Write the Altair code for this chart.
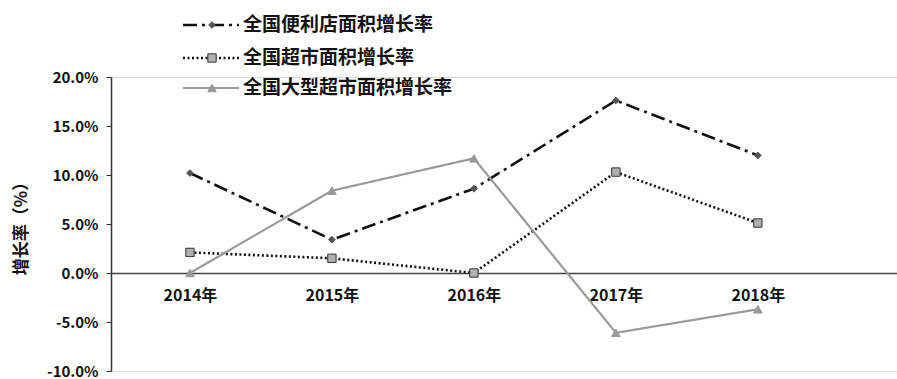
import altair as alt
import pandas as pd

years = [2014, 2015, 2016, 2017, 2018]
series_names = ["全国便利店面积增长率", "全国超市面积增长率", "全国大型超市面积增长率"]
conv = [10.2, 3.4, 8.6, 17.6, 12.0]
supm = [2.1, 1.5, 0.0, 10.3, 5.1]
hyper = [0.0, 8.4, 11.7, -6.1, -3.7]
y_ticks = [-10, -5, 0, 5, 10, 15, 20]

rows = []
for name, vals in zip(series_names, [conv, supm, hyper]):
    for yr, v in zip(years, vals):
        rows.append({"year": yr, "series": name, "value": v})
df = pd.DataFrame(rows)

W, H = 786, 294
FONT = "Noto Sans CJK SC"

colors = ["#111111", "#111111", "#9a9a9a"]
dashes = [[14, 5, 3, 5], [2, 2.5], [1, 0]]
shapes = ["diamond", "square", "triangle-up"]
fills = ["#555555", "#b0b0b0", "#9a9a9a"]
sizes = [45, 70, 75]
widths = [2.6, 2.6, 2.2]

xscale = alt.Scale(domain=[2013.444, 2018.98], nice=False, zero=False)
yscale = alt.Scale(domain=[-10, 20], nice=False)

layers = []
for i, name in enumerate(series_names):
    d = df[df.series == name]
    base = alt.Chart(d)
    line = base.mark_line(color=colors[i], strokeDash=dashes[i], strokeWidth=widths[i]).encode(
        x=alt.X("year:Q", scale=xscale,
                axis=alt.Axis(values=years, title=None, tickSize=0, grid=False, offset=-98,
                              labelExpr="format(datum.value,'d') + '年'", labelFont=FONT,
                              labelFontSize=16, labelFontWeight="bold", labelColor="#111",
                              labelPadding=14, domainColor="#444", domainWidth=1.5)),
        y=alt.Y("value:Q", scale=yscale,
                axis=alt.Axis(values=y_ticks, title="增长率（%）", grid=False, tickSize=5,
                              tickColor="#333", domainColor="#333", domainWidth=1.5,
                              labelExpr="(datum.value < 0 ? '-' : '') + format(abs(datum.value),'.1f') + '%'",
                              labelFont=FONT, labelFontSize=15, labelFontWeight="bold",
                              labelColor="#111", labelPadding=8, titleFont=FONT, titleFontSize=17,
                              titleFontWeight="bold", titleColor="#111", titlePadding=16)),
    )
    pts = base.mark_point(shape=shapes[i], filled=True, fill=fills[i], size=sizes[i],
                          stroke="#333" if i == 1 else fills[i], strokeWidth=1, opacity=1).encode(
        x=alt.X("year:Q", scale=xscale), y=alt.Y("value:Q", scale=yscale))
    layers += [line, pts]

# manual legend
leg_y = [-52, -19, 11]
for i, name in enumerate(series_names):
    one = pd.DataFrame({"label": [name]})
    b = alt.Chart(one)
    layers.append(b.mark_rule(color=colors[i], strokeDash=dashes[i], strokeWidth=widths[i]).encode(
        x=alt.value(72), x2=alt.value(128), y=alt.value(leg_y[i])))
    layers.append(b.mark_point(shape=shapes[i], filled=True, fill=fills[i], size=sizes[i],
                               stroke="#333" if i == 1 else fills[i], strokeWidth=1, opacity=1).encode(
        x=alt.value(101), y=alt.value(leg_y[i])))
    layers.append(b.mark_text(align="left", baseline="middle", font=FONT, fontSize=19,
                              fontWeight="bold", color="#111").encode(
        x=alt.value(132), y=alt.value(leg_y[i]), text="label:N"))

chart = alt.layer(*layers).properties(
    width=W, height=H,
    autosize=alt.AutoSizeParams(type="none"),
    padding={"left": 111, "top": 77, "right": 0, "bottom": 8},
).configure_view(stroke=None).configure(background="white")

chart.save("out.html", embed_options={"renderer": "svg", "actions": False})
